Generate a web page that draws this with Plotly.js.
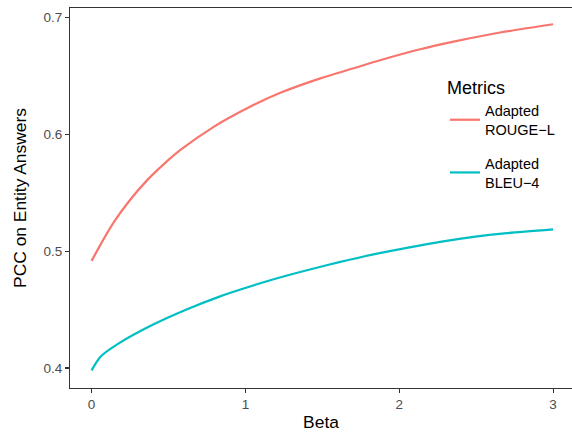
<!DOCTYPE html>
<html>
<head>
<meta charset="utf-8">
<script src="https://cdn.plot.ly/plotly-3.0.1.min.js"></script>
<style>html,body{margin:0;padding:0;background:#fff;}#chart{width:572px;height:432px;}</style>
</head>
<body>
<div id="chart"></div>
<script>
const betaRouge = [0, 0.145, 0.25, 0.362, 0.47, 0.578, 0.794, 1.011, 1.227, 1.487, 1.703, 1.92, 2.136, 2.353, 2.569, 2.786, 3.0];
const rougeL   = [0.4917, 0.5248, 0.5438, 0.5608, 0.5745, 0.5866, 0.6064, 0.6223, 0.6355, 0.6479, 0.6565, 0.6651, 0.6728, 0.6793, 0.6850, 0.6899, 0.6942];
const betaBleu = [0, 0.058, 0.177, 0.394, 0.61, 0.827, 0.968, 1.184, 1.40, 1.617, 1.833, 2.05, 2.266, 2.483, 2.70, 3.0];
const bleu4    = [0.398, 0.4097, 0.4211, 0.4368, 0.4497, 0.4609, 0.4672, 0.4760, 0.4837, 0.4908, 0.4972, 0.5028, 0.5080, 0.5123, 0.5155, 0.5187];
const seriesNames = ["Adapted<br>ROUGE\u2212L", "Adapted<br>BLEU\u22124"];
const seriesColors = ["#F8766D", "#00BFC4"];
const xTicks = [0, 1, 2, 3];
const yTicks = [0.4, 0.5, 0.6, 0.7];

const font = "Liberation Sans, Arial, Helvetica, sans-serif";
const traces = [
  {x: betaRouge, y: rougeL, name: seriesNames[0], legendgroup: "a", mode: "lines", line: {color: seriesColors[0], width: 2.2, shape: "spline", smoothing: 1}},
  {x: betaBleu, y: bleu4, name: seriesNames[1], legendgroup: "b", mode: "lines", line: {color: seriesColors[1], width: 2.2, shape: "spline", smoothing: 0.7}}
];
const layout = {
  width: 572, height: 432,
  margin: {l: 70, r: 0, t: 8, b: 44},
  paper_bgcolor: "#fff", plot_bgcolor: "#fff",
  font: {family: font, color: "#000"},
  showlegend: true,
  legend: {
    x: (445 - 70) / 502, y: (388 - 71) / 380, xanchor: "left", yanchor: "top",
    title: {text: "Metrics", font: {size: 18, color: "#000"}},
    font: {size: 14.5, color: "#000"},
    tracegroupgap: 12,
    bgcolor: "rgba(0,0,0,0)"
  },
  xaxis: {
    range: [-0.14, 3.123], tickvals: xTicks, ticktext: xTicks.map(String),
    ticks: "outside", ticklen: 4, tickwidth: 1.1, tickcolor: "#333",
    showline: true, linecolor: "#333", linewidth: 1.1, mirror: true,
    showgrid: false, zeroline: false,
    tickfont: {size: 13.5, color: "#4D4D4D"},
    title: {text: "Beta", font: {size: 17.4, color: "#000"}, standoff: 4},
    automargin: false
  },
  yaxis: {
    range: [0.3829, 0.7081], tickvals: yTicks, ticktext: yTicks.map(v => v.toFixed(1)),
    ticks: "outside", ticklen: 4, tickwidth: 1.1, tickcolor: "#333",
    showline: true, linecolor: "#333", linewidth: 1.1,
    showgrid: false, zeroline: false,
    tickfont: {size: 13.5, color: "#4D4D4D"},
    title: {text: "PCC on Entity Answers", font: {size: 17.4, color: "#000"}, standoff: 12},
    automargin: false
  }
};
Plotly.newPlot("chart", traces, layout, {displayModeBar: false, staticPlot: true});
</script>
</body>
</html>
